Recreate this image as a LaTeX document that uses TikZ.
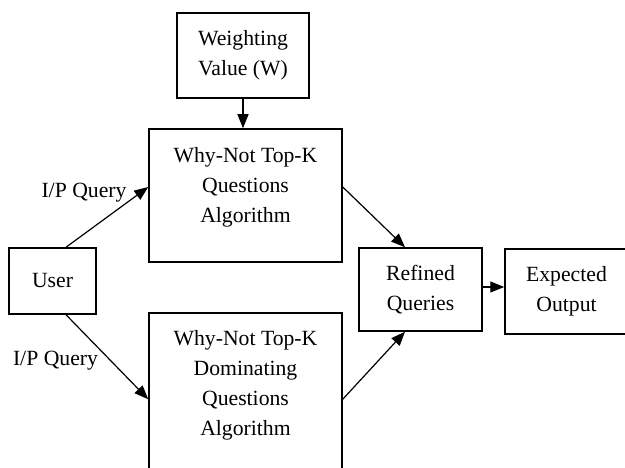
\documentclass[tikz,border=0pt]{standalone}
\usepackage{fontspec}
\setmainfont{Liberation Serif}
\usetikzlibrary{arrows.meta}
\begin{document}
\begin{tikzpicture}[x=1pt,y=-1pt,
  box/.style={draw, line width=1.5pt, inner sep=0pt},
  txt/.style={font=\fontsize{21.7pt}{30pt}\selectfont, align=center, inner sep=0pt},
  flow/.style={line width=1.2pt, -{Triangle[length=14pt,width=11pt]}},
]
\useasboundingbox (0,0) rectangle (625,468);
\clip (0,0) rectangle (625,468);

% boxes
\node[box, txt, minimum width=132pt, minimum height=85pt] (wv) at (243,55.5) {Weighting\\Value (W)};
\node[box, minimum width=193pt, minimum height=133pt] (alg1) at (245.5,195.5) {};
\node[txt, anchor=north] (alg1t) at (245.5,147) {Why-Not Top-K\\Questions\\Algorithm};
\node[box, txt, minimum width=87pt, minimum height=66pt] (user) at (52.5,281) {User};
\node[box, minimum width=193pt, minimum height=167pt] (alg2) at (245.5,396.5) {};
\node[txt, anchor=north] (alg2t) at (245.5,330) {Why-Not Top-K\\Dominating\\Questions\\Algorithm};
\node[box, txt, minimum width=123pt, minimum height=83pt] (ref) at (420.5,289.5) {Refined\\Queries};
\node[box, txt, minimum width=123pt, minimum height=85pt] (exp) at (566.5,291.5) {Expected\\Output};

% edge labels
\node[txt, anchor=base] (q1) at (84,198) {I/P Query};
\node[txt, anchor=base] (q2) at (55.5,366) {I/P Query};

% connectors
\draw[flow] (wv.south) -- (wv.south |- alg1.north);
\draw[flow] ([xshift=13.5pt]user.north) -- ([yshift=8.5pt]alg1.west);
\draw[flow] ([xshift=13.5pt]user.south) -- ([yshift=-87pt]alg2.north west);
\draw[flow] ([yshift=8.5pt]alg1.east) -- ([xshift=-15.5pt]ref.north);
\draw[flow] ([yshift=-87pt]alg2.north east) -- ([xshift=-15.5pt]ref.south);
\coordinate (rx) at ([yshift=2.5pt]ref.east);
\draw[flow] (rx) -- (rx -| exp.west);
\end{tikzpicture}
\end{document}
